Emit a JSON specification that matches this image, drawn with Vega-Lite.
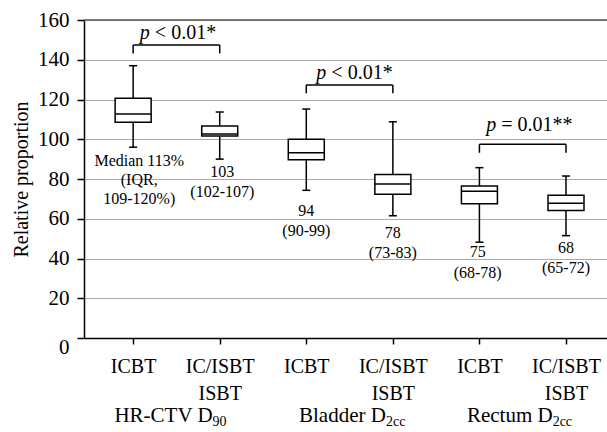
{
  "$schema": "https://vega.github.io/schema/vega-lite/v6.json",
  "width": 523,
  "height": 318,
  "autosize": {"type": "none"},
  "padding": {"left": 84, "top": 20, "right": 0, "bottom": 94},
  "background": "white",
  "config": {
    "view": {"stroke": null},
    "font": "Liberation Serif",
    "text": {"font": "Liberation Serif", "color": "black"},
    "axis": {
      "labelFont": "Liberation Serif",
      "titleFont": "Liberation Serif",
      "labelColor": "black",
      "titleColor": "black",
      "domainColor": "black",
      "domainWidth": 1.5,
      "tickColor": "black",
      "tickWidth": 1.5,
      "labelFontSize": 20,
      "titleFontSize": 20,
      "titleFontWeight": "normal",
      "labelOverlap": false,
      "labelFlush": false
    },
    "axisY": {
      "gridColor": "#aaaaaa",
      "gridWidth": 1.2,
      "tickSize": 7,
      "labelPadding": 8,
      "labelFontSize": 21,
      "titlePadding": 6
    },
    "axisX": {
      "tickSize": 6,
      "labelPadding": 12,
      "labelLineHeight": 27,
      "grid": false
    }
  },
  "datasets": {
    "boxes": [
      {"pos": 1, "group": "HR-CTV D90", "treatment": "ICBT", "lower": 96, "q1": 108.5, "median": 112.7, "q3": 120.6, "upper": 137},
      {"pos": 2, "group": "HR-CTV D90", "treatment": "IC/ISBT ISBT", "lower": 90, "q1": 101.6, "median": 102.6, "q3": 106.7, "upper": 113.7},
      {"pos": 3, "group": "Bladder D2cc", "treatment": "ICBT", "lower": 74.3, "q1": 89.7, "median": 93.2, "q3": 100, "upper": 115.2},
      {"pos": 4, "group": "Bladder D2cc", "treatment": "IC/ISBT ISBT", "lower": 61.5, "q1": 72.3, "median": 77.5, "q3": 82.3, "upper": 108.8},
      {"pos": 5, "group": "Rectum D2cc", "treatment": "ICBT", "lower": 48.2, "q1": 67.6, "median": 73.8, "q3": 76.5, "upper": 85.7},
      {"pos": 6, "group": "Rectum D2cc", "treatment": "IC/ISBT ISBT", "lower": 51.5, "q1": 64.2, "median": 67.8, "q3": 71.8, "upper": 81.5}
    ],
    "notes": [
      {"pos": 1.07, "y": 89.1, "text": "Median 113%"},
      {"pos": 1.07, "y": 79.5, "text": "(IQR,"},
      {"pos": 1.07, "y": 70.0, "text": "109-120%)"},
      {"pos": 2.03, "y": 83.3, "text": "103"},
      {"pos": 2.03, "y": 73.7, "text": "(102-107)"},
      {"pos": 3.0, "y": 64.0, "text": "94"},
      {"pos": 3.0, "y": 54.0, "text": "(90-99)"},
      {"pos": 4.0, "y": 52.7, "text": "78"},
      {"pos": 4.0, "y": 42.9, "text": "(73-83)"},
      {"pos": 4.98, "y": 43.4, "text": "75"},
      {"pos": 4.98, "y": 32.9, "text": "(68-78)"},
      {"pos": 6.0, "y": 45.1, "text": "68"},
      {"pos": 6.0, "y": 35.1, "text": "(65-72)"}
    ],
    "brackets": [
      {"x1": 1, "x2": 2, "y": 147.4, "yend": 143.2},
      {"x1": 3, "x2": 4, "y": 127.3, "yend": 123.1},
      {"x1": 5, "x2": 6, "y": 97.5, "yend": 93.2}
    ],
    "pvals": [
      {"pos": 1.193, "y": 153.5, "p": "p", "rest": "< 0.01*"},
      {"pos": 3.232, "y": 133.2, "p": "p", "rest": "< 0.01*"},
      {"pos": 5.193, "y": 107.2, "p": "p", "rest": "= 0.01**"}
    ],
    "groups": [
      {"pos": 1.918, "y": -42.5, "main": "HR-CTV D", "sub": "90"},
      {"pos": 3.92, "y": -42.5, "main": "Bladder D", "sub": "2cc"},
      {"pos": 5.846, "y": -42.5, "main": "Rectum D", "sub": "2cc"}
    ]
  },
  "encoding": {
    "x": {
      "field": "pos", "type": "quantitative",
      "scale": {"domain": [0.49, 6.416], "nice": false, "zero": false},
      "axis": {
        "values": [1, 2, 3, 4, 5, 6],
        "tickCount": 20,
        "title": null,
        "labelFont": "Liberation Serif",
        "labelExpr": "datum.value % 2 == 1 ? 'ICBT' : ['IC/ISBT', 'ISBT']"
      }
    }
  },
  "layer": [
    {
      "data": {"name": "boxes"},
      "mark": {"type": "rule", "color": "black", "strokeWidth": 1.5},
      "encoding": {
        "y": {
          "field": "lower", "type": "quantitative",
          "scale": {"domain": [0, 160], "nice": false},
          "axis": {
            "values": [0, 20, 40, 60, 80, 100, 120, 140, 160],
            "tickCount": 20,
            "title": "Relative proportion",
            "titleFont": "Liberation Serif",
            "titleFontSize": 20,
            "titleFontWeight": "normal",
            "labelFont": "Liberation Serif",
            "grid": true,
            "labelOffset": {"condition": {"test": "datum.value === 0", "value": 9}, "value": 0}
          }
        },
        "y2": {"field": "upper"}
      }
    },
    {
      "data": {"values": [{"v": 160}]},
      "mark": {"type": "rule", "color": "#555555", "strokeWidth": 1.5},
      "encoding": {"x": null, "y": {"field": "v", "type": "quantitative"}}
    },
    {
      "data": {"name": "boxes"},
      "mark": {"type": "bar", "size": 36, "fill": "white", "stroke": "black", "strokeWidth": 1.5},
      "encoding": {
        "y": {"field": "q1", "type": "quantitative"},
        "y2": {"field": "q3"}
      }
    },
    {
      "data": {"name": "boxes"},
      "mark": {"type": "tick", "orient": "horizontal", "size": 36, "thickness": 1.5, "color": "black", "opacity": 1},
      "encoding": {
        "y": {"field": "median", "type": "quantitative"}
      }
    },
    {
      "data": {"name": "boxes"},
      "mark": {"type": "tick", "orient": "horizontal", "size": 8, "thickness": 1.5, "color": "black", "opacity": 1},
      "encoding": {
        "y": {"field": "upper", "type": "quantitative"}
      }
    },
    {
      "data": {"name": "boxes"},
      "mark": {"type": "tick", "orient": "horizontal", "size": 8, "thickness": 1.5, "color": "black", "opacity": 1},
      "encoding": {
        "y": {"field": "lower", "type": "quantitative"}
      }
    },
    {
      "data": {"name": "brackets"},
      "mark": {"type": "rule", "color": "black", "strokeWidth": 1.5},
      "encoding": {
        "x": {"field": "x1", "type": "quantitative"},
        "x2": {"field": "x2"},
        "y": {"field": "y", "type": "quantitative"}
      }
    },
    {
      "data": {"name": "brackets"},
      "mark": {"type": "rule", "color": "black", "strokeWidth": 1.5},
      "encoding": {
        "x": {"field": "x1", "type": "quantitative"},
        "y": {"field": "y", "type": "quantitative"},
        "y2": {"field": "yend"}
      }
    },
    {
      "data": {"name": "brackets"},
      "mark": {"type": "rule", "color": "black", "strokeWidth": 1.5},
      "encoding": {
        "x": {"field": "x2", "type": "quantitative"},
        "y": {"field": "y", "type": "quantitative"},
        "y2": {"field": "yend"}
      }
    },
    {
      "data": {"name": "notes"},
      "mark": {"type": "text", "font": "Liberation Serif", "fontSize": 16, "align": "center", "baseline": "middle"},
      "encoding": {
        "y": {"field": "y", "type": "quantitative"},
        "text": {"field": "text"}
      }
    },
    {
      "data": {"name": "pvals"},
      "mark": {"type": "text", "font": "Liberation Serif", "fontSize": 20, "fontStyle": "italic", "align": "right", "baseline": "middle"},
      "encoding": {
        "y": {"field": "y", "type": "quantitative"},
        "text": {"field": "p"}
      }
    },
    {
      "data": {"name": "pvals"},
      "mark": {"type": "text", "font": "Liberation Serif", "fontSize": 20, "align": "left", "baseline": "middle", "dx": 5},
      "encoding": {
        "y": {"field": "y", "type": "quantitative"},
        "text": {"field": "rest"}
      }
    },
    {
      "data": {"name": "groups"},
      "mark": {"type": "text", "font": "Liberation Serif", "fontSize": 21, "align": "right", "baseline": "alphabetic"},
      "encoding": {
        "y": {"field": "y", "type": "quantitative"},
        "text": {"field": "main"}
      }
    },
    {
      "data": {"name": "groups"},
      "mark": {"type": "text", "font": "Liberation Serif", "fontSize": 14, "align": "left", "baseline": "alphabetic", "dy": 4},
      "encoding": {
        "y": {"field": "y", "type": "quantitative"},
        "text": {"field": "sub"}
      }
    }
  ]
}
